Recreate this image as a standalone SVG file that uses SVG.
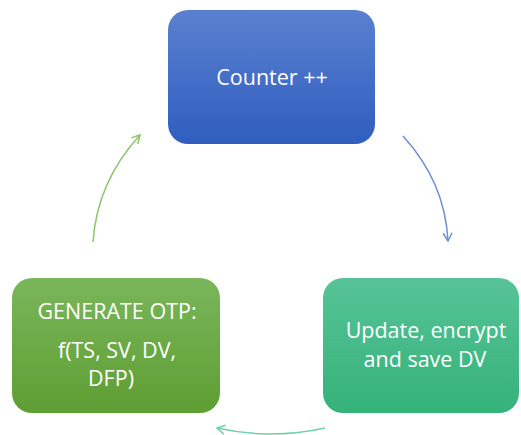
<svg xmlns="http://www.w3.org/2000/svg" width="521" height="435" viewBox="0 0 521 435">
  <defs>
    <linearGradient id="gBlue" x1="0" y1="0" x2="0" y2="1">
      <stop offset="0" stop-color="#5b80d0"/>
      <stop offset="1" stop-color="#2f5ebf"/>
    </linearGradient>
    <linearGradient id="gGreen" x1="0" y1="0" x2="0" y2="1">
      <stop offset="0" stop-color="#7ab65b"/>
      <stop offset="1" stop-color="#5e9e33"/>
    </linearGradient>
    <linearGradient id="gTeal" x1="0" y1="0" x2="0" y2="1">
      <stop offset="0" stop-color="#57c397"/>
      <stop offset="1" stop-color="#35b27a"/>
    </linearGradient>
    <marker id="mBlue" viewBox="0 0 12 12" refX="10" refY="6" markerWidth="12" markerHeight="12" markerUnits="userSpaceOnUse" orient="auto">
      <path d="M2,1.5 L10,6 L2,10.5" fill="none" stroke="#6b8fd8" stroke-width="1.5"/>
    </marker>
    <marker id="mGreen" viewBox="0 0 12 12" refX="10" refY="6" markerWidth="12" markerHeight="12" markerUnits="userSpaceOnUse" orient="auto">
      <path d="M2,1.5 L10,6 L2,10.5" fill="none" stroke="#8cc66c" stroke-width="1.5"/>
    </marker>
    <marker id="mTeal" viewBox="0 0 12 12" refX="10" refY="6" markerWidth="12" markerHeight="12" markerUnits="userSpaceOnUse" orient="auto">
      <path d="M2,1.5 L10,6 L2,10.5" fill="none" stroke="#72cfac" stroke-width="1.5"/>
    </marker>
  </defs>
  <style>
    .lbl { font-family: "Open Sans", "Liberation Sans", sans-serif; font-size: 21.5px; fill: #ffffff; text-anchor: middle; }
    .arc { fill: none; stroke-width: 1.5; }
  </style>
  <rect width="521" height="435" fill="#ffffff"/>
  <g id="connectors">
    <path class="arc" d="M403,136 Q445,182 448,241" stroke="#6b8fd8" marker-end="url(#mBlue)"/>
    <path class="arc" d="M325,428 Q271,440 217,428" stroke="#72cfac" marker-end="url(#mTeal)"/>
    <path class="arc" d="M93,242 Q97,182 140,135" stroke="#8cc66c" marker-end="url(#mGreen)"/>
  </g>
  <g id="node-counter">
    <rect x="168" y="10" width="207" height="134" rx="20" fill="url(#gBlue)"/>
    <text class="lbl" x="272" y="85">Counter ++</text>
  </g>
  <g id="node-update">
    <rect x="323" y="278" width="196" height="135" rx="20" fill="url(#gTeal)"/>
    <text class="lbl" x="426" y="338">Update, encrypt</text>
    <text class="lbl" x="425" y="367">and save DV</text>
  </g>
  <g id="node-generate">
    <rect x="12" y="278" width="208" height="135" rx="20" fill="url(#gGreen)"/>
    <text class="lbl" x="117" y="319">GENERATE OTP:</text>
    <text class="lbl" x="117" y="358">f(TS, SV, DV,</text>
    <text class="lbl" x="111" y="386">DFP)</text>
  </g>
</svg>
